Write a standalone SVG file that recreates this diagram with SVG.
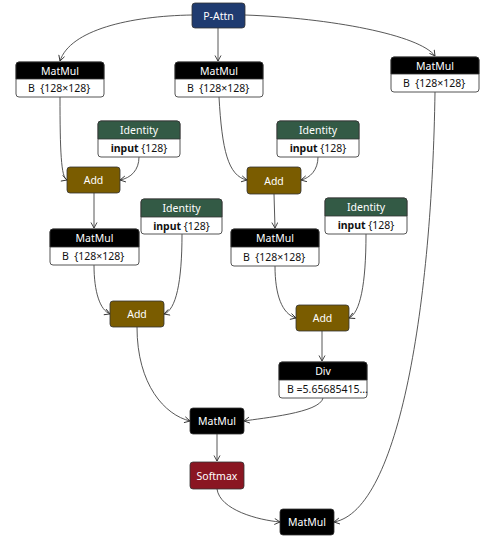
<svg xmlns="http://www.w3.org/2000/svg" width="481" height="539" viewBox="0 0 481 539">
<defs>
<marker id="arr" markerWidth="8" markerHeight="8" refX="6" refY="3.5" orient="auto" markerUnits="userSpaceOnUse">
<path d="M0.5,0.5 L6,3.5 L0.5,6.5" fill="none" stroke="#333" stroke-width="0.9"/>
</marker>
</defs>
<style>
text{font-family:"Noto Sans","Liberation Sans",sans-serif;font-size:10.5px;}
.t{fill:#fff;text-anchor:middle;dominant-baseline:central;}
.b{fill:#111;dominant-baseline:central;}
.body{fill:#fff;stroke:#555;stroke-width:1;}
.hdr{stroke:#333;stroke-width:0.8;}
.e{fill:none;stroke:#444;stroke-width:0.9;marker-end:url(#arr);}
</style>
<g id="edges">
<path class="e" d="M192,15 C130,16 70,30 60,61"/>
<path class="e" d="M218,28 L218,61"/>
<path class="e" d="M245,15 C330,18 420,35 435,56"/>
<path class="e" d="M60,97 C60,150 61,178 67,180"/>
<path class="e" d="M139,157 C139,170 131,178 120,180"/>
<path class="e" d="M94,193 L94,228"/>
<path class="e" d="M94,265 C94,292 100,310 110,314"/>
<path class="e" d="M182,234 C182,282 176,310 164,314"/>
<path class="e" d="M137,327 C137,385 165,415 190,421"/>
<path class="e" d="M219,97 C222,150 228,176 247,180"/>
<path class="e" d="M318,157 C318,170 310,178 301,180"/>
<path class="e" d="M274,194 L275,228"/>
<path class="e" d="M275,266 C275,295 282,314 296,318"/>
<path class="e" d="M366,234 C366,285 360,313 349,318"/>
<path class="e" d="M322,331 L322,361"/>
<path class="e" d="M323,398 C320,413 262,418 244,421"/>
<path class="e" d="M217,434 L217,461"/>
<path class="e" d="M217,489 C220,510 258,520 280,522"/>
<path class="e" d="M435,92 C432,300 400,510 334,522"/>
</g>
<g id="pattn">
<rect x="192" y="3" width="53" height="25" rx="3" fill="#1f3b70" stroke="#333" stroke-width="0.8"/>
<text class="t" x="218.5" y="15.5">P-Attn</text>
</g>
<g id="matmul1">
<rect class="body" x="16" y="62" width="88" height="35" rx="3"/>
<path class="hdr" d="M16,79 L16,65 Q16,62 19,62 L101,62 Q104,62 104,65 L104,79 Z" fill="#000"/>
<text class="t" x="60" y="70.5">MatMul</text>
<text class="b" x="28" y="88">B&#160;&#160;{128×128}</text>
</g>
<g id="matmul2">
<rect class="body" x="175" y="62" width="88" height="35" rx="3"/>
<path class="hdr" d="M175,79 L175,65 Q175,62 178,62 L260,62 Q263,62 263,65 L263,79 Z" fill="#000"/>
<text class="t" x="219" y="70.5">MatMul</text>
<text class="b" x="187" y="88">B&#160;&#160;{128×128}</text>
</g>
<g id="matmul3">
<rect class="body" x="391" y="57" width="88" height="35" rx="3"/>
<path class="hdr" d="M391,74 L391,60 Q391,57 394,57 L476,57 Q479,57 479,60 L479,74 Z" fill="#000"/>
<text class="t" x="435" y="65.5">MatMul</text>
<text class="b" x="403" y="83">B&#160;&#160;{128×128}</text>
</g>
<g id="identity1">
<rect class="body" x="98" y="121" width="82" height="36" rx="3"/>
<path class="hdr" d="M98,139 L98,124 Q98,121 101,121 L177,121 Q180,121 180,124 L180,139 Z" fill="#335a45"/>
<text class="t" x="139" y="130">Identity</text>
<text class="b" x="139" y="148" text-anchor="middle"><tspan font-weight="bold">input</tspan> {128}</text>
</g>
<g id="add1">
<rect x="67" y="167" width="53" height="26" rx="3" fill="#7a5c00" stroke="#333" stroke-width="0.8"/>
<text class="t" x="93.5" y="180">Add</text>
</g>
<g id="matmul4">
<rect class="body" x="50" y="229" width="89" height="36" rx="3"/>
<path class="hdr" d="M50,247 L50,232 Q50,229 53,229 L136,229 Q139,229 139,232 L139,247 Z" fill="#000"/>
<text class="t" x="94.5" y="238">MatMul</text>
<text class="b" x="62" y="256">B&#160;&#160;{128×128}</text>
</g>
<g id="identity2">
<rect class="body" x="141" y="199" width="81" height="35" rx="3"/>
<path class="hdr" d="M141,217 L141,202 Q141,199 144,199 L219,199 Q222,199 222,202 L222,217 Z" fill="#335a45"/>
<text class="t" x="181.5" y="208">Identity</text>
<text class="b" x="181.5" y="225.5" text-anchor="middle"><tspan font-weight="bold">input</tspan> {128}</text>
</g>
<g id="add2">
<rect x="110" y="301" width="54" height="26" rx="3" fill="#7a5c00" stroke="#333" stroke-width="0.8"/>
<text class="t" x="137" y="314">Add</text>
</g>
<g id="identity3">
<rect class="body" x="277" y="121" width="82" height="36" rx="3"/>
<path class="hdr" d="M277,139 L277,124 Q277,121 280,121 L356,121 Q359,121 359,124 L359,139 Z" fill="#335a45"/>
<text class="t" x="318" y="130">Identity</text>
<text class="b" x="318" y="148" text-anchor="middle"><tspan font-weight="bold">input</tspan> {128}</text>
</g>
<g id="add3">
<rect x="247" y="167" width="54" height="27" rx="3" fill="#7a5c00" stroke="#333" stroke-width="0.8"/>
<text class="t" x="274" y="180.5">Add</text>
</g>
<g id="matmul5">
<rect class="body" x="231" y="229" width="88" height="37" rx="3"/>
<path class="hdr" d="M231,247 L231,232 Q231,229 234,229 L316,229 Q319,229 319,232 L319,247 Z" fill="#000"/>
<text class="t" x="275" y="238">MatMul</text>
<text class="b" x="243" y="256.5">B&#160;&#160;{128×128}</text>
</g>
<g id="identity4">
<rect class="body" x="325" y="198" width="82" height="36" rx="3"/>
<path class="hdr" d="M325,216 L325,201 Q325,198 328,198 L404,198 Q407,198 407,201 L407,216 Z" fill="#335a45"/>
<text class="t" x="366" y="207">Identity</text>
<text class="b" x="366" y="225" text-anchor="middle"><tspan font-weight="bold">input</tspan> {128}</text>
</g>
<g id="add4">
<rect x="296" y="305" width="53" height="26" rx="3" fill="#7a5c00" stroke="#333" stroke-width="0.8"/>
<text class="t" x="322.5" y="318">Add</text>
</g>
<g id="div">
<rect class="body" x="279" y="362" width="88" height="36" rx="3"/>
<path class="hdr" d="M279,380 L279,365 Q279,362 282,362 L364,362 Q367,362 367,365 L367,380 Z" fill="#000"/>
<text class="t" x="323" y="371">Div</text>
<text class="b" x="287" y="389">B =5.65685415...</text>
</g>
<g id="matmul6">
<rect x="190" y="408" width="54" height="26" rx="3" fill="#000" stroke="#333" stroke-width="0.8"/>
<text class="t" x="217" y="421">MatMul</text>
</g>
<g id="softmax">
<rect x="190" y="462" width="54" height="27" rx="3" fill="#8a1622" stroke="#333" stroke-width="0.8"/>
<text class="t" x="217" y="475.5">Softmax</text>
</g>
<g id="matmul7">
<rect x="280" y="509" width="54" height="26" rx="3" fill="#000" stroke="#333" stroke-width="0.8"/>
<text class="t" x="307" y="522">MatMul</text>
</g>
</svg>
